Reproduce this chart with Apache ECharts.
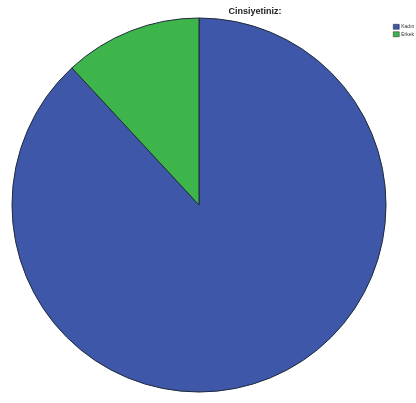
<!DOCTYPE html>
<html><head><meta charset="utf-8">
<script src="https://cdn.jsdelivr.net/npm/echarts@6/dist/echarts.min.js"></script>
<style>html,body{margin:0;padding:0;background:#fff}#c{width:416px;height:403px}</style>
</head><body><div id="c"></div>
<script>
const categories = ['Kadın', 'Erkek'];
const values = [88.1, 11.9];
const colors = ['#3f57a8', '#3db54a'];
const chart = echarts.init(document.getElementById('c'));
chart.setOption({
  animation: false,
  title: { text: 'Cinsiyetiniz:', left: 250, top: 2, textAlign: 'center',
    textStyle: { fontSize: 9, fontWeight: 'bold', color: '#222', fontFamily: 'Liberation Sans' } },
  legend: { orient: 'vertical', left: 388, top: 19, itemWidth: 6, itemHeight: 5, itemGap: 2, icon: 'rect',
    textStyle: { fontSize: 5, color: '#333', padding: [0,0,0,-3] },
    data: categories.map((c,i)=>({name:c, itemStyle:{color:colors[i], borderColor:'#223', borderWidth:0.5}})) },
  series: [{
    type: 'pie', center: [199, 205], radius: 187, startAngle: 90, clockwise: true,
    label: { show: false }, labelLine: { show: false },
    itemStyle: { borderColor: '#1d2a3a', borderWidth: 1 },
    data: categories.map((c,i)=>({name:c, value:values[i], itemStyle:{color:colors[i]}}))
  }]
});
</script></body></html>
